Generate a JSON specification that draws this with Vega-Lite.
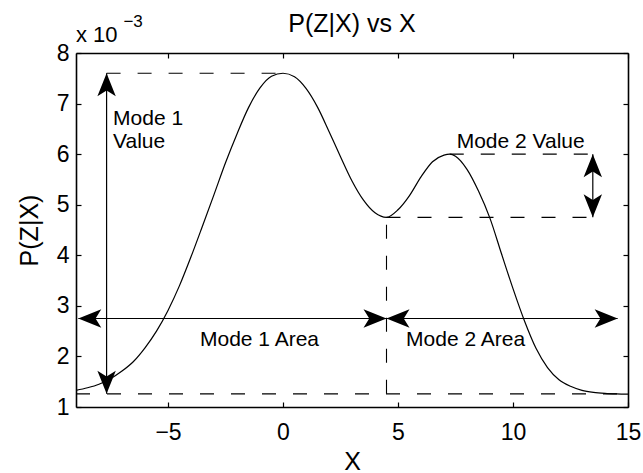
{
  "$schema": "https://vega.github.io/schema/vega-lite/v6.json",
  "width": 552,
  "height": 354,
  "autosize": {"type": "none"},
  "padding": {"left": 76, "top": 53, "right": 15, "bottom": 66},
  "background": "white",
  "config": {
    "font": "Liberation Sans",
    "view": {"stroke": null},
    "axis": {
      "grid": false,
      "domainColor": "black",
      "domainWidth": 1.6,
      "tickColor": "black",
      "tickWidth": 1.2,
      "tickSize": -5,
      "labelColor": "black",
      "labelFontSize": 23,
      "labelFlush": false,
      "labelOverlap": false,
      "titleColor": "black",
      "titleFontSize": 25,
      "titleFontWeight": "normal"
    }
  },
  "datasets": {
    "curve": [
      {"x": -9.0, "p": 0.00133},
      {"x": -8.5, "p": 0.00138},
      {"x": -8.0, "p": 0.00145},
      {"x": -7.5, "p": 0.00156},
      {"x": -7.0, "p": 0.00171},
      {"x": -6.5, "p": 0.00190},
      {"x": -6.0, "p": 0.00217},
      {"x": -5.5, "p": 0.00250},
      {"x": -5.0, "p": 0.00291},
      {"x": -4.5, "p": 0.00340},
      {"x": -4.0, "p": 0.00397},
      {"x": -3.5, "p": 0.00458},
      {"x": -3.0, "p": 0.00520},
      {"x": -2.5, "p": 0.00583},
      {"x": -2.0, "p": 0.00640},
      {"x": -1.5, "p": 0.00692},
      {"x": -1.0, "p": 0.00731},
      {"x": -0.5, "p": 0.00754},
      {"x": 0.0, "p": 0.00760},
      {"x": 0.5, "p": 0.00753},
      {"x": 1.0, "p": 0.00730},
      {"x": 1.5, "p": 0.00693},
      {"x": 2.0, "p": 0.00645},
      {"x": 2.5, "p": 0.00595},
      {"x": 3.0, "p": 0.00547},
      {"x": 3.5, "p": 0.00509},
      {"x": 4.0, "p": 0.00484},
      {"x": 4.5, "p": 0.00475},
      {"x": 5.0, "p": 0.00490},
      {"x": 5.5, "p": 0.00518},
      {"x": 6.0, "p": 0.00555},
      {"x": 6.5, "p": 0.00585},
      {"x": 7.0, "p": 0.00598},
      {"x": 7.25, "p": 0.00600},
      {"x": 7.5, "p": 0.00596},
      {"x": 8.0, "p": 0.00570},
      {"x": 8.5, "p": 0.00527},
      {"x": 9.0, "p": 0.00473},
      {"x": 9.5, "p": 0.00403},
      {"x": 10.0, "p": 0.00334},
      {"x": 10.5, "p": 0.00270},
      {"x": 11.0, "p": 0.00216},
      {"x": 11.5, "p": 0.00178},
      {"x": 12.0, "p": 0.00154},
      {"x": 12.5, "p": 0.00141},
      {"x": 13.0, "p": 0.00133},
      {"x": 13.5, "p": 0.00129},
      {"x": 14.0, "p": 0.00127},
      {"x": 14.5, "p": 0.00126},
      {"x": 15.0, "p": 0.001255}
    ],
    "guides": [
      {"x1": -7.67, "x2": 0, "p1": 0.0076, "p2": 0.0076},
      {"x1": -9, "x2": 15, "p1": 0.00126, "p2": 0.00126},
      {"x1": 4.5, "x2": 4.5, "p1": 0.00126, "p2": 0.00475},
      {"x1": 4.5, "x2": 13.47, "p1": 0.00475, "p2": 0.00475},
      {"x1": 7.25, "x2": 13.47, "p1": 0.006, "p2": 0.006}
    ],
    "shafts": [
      {"x1": -7.67, "x2": -7.67, "p1": 0.00126, "p2": 0.0076},
      {"x1": -8.9, "x2": 4.5, "p1": 0.00275, "p2": 0.00275},
      {"x1": 4.5, "x2": 14.55, "p1": 0.00275, "p2": 0.00275},
      {"x1": 13.47, "x2": 13.47, "p1": 0.00475, "p2": 0.006}
    ],
    "heads": [
      {"x": -7.67, "p": 0.0076, "dir": "up"},
      {"x": -7.67, "p": 0.00126, "dir": "down"},
      {"x": -8.9, "p": 0.00275, "dir": "left"},
      {"x": 4.5, "p": 0.00275, "dir": "right"},
      {"x": 4.5, "p": 0.00275, "dir": "left"},
      {"x": 14.55, "p": 0.00275, "dir": "right"},
      {"x": 13.47, "p": 0.006, "dir": "up"},
      {"x": 13.47, "p": 0.00475, "dir": "down"}
    ],
    "notes": [
      {"text": "Mode 1", "x": -7.39, "p": 0.006576},
      {"text": "Value", "x": -7.39, "p": 0.00612},
      {"text": "Mode 2 Value", "x": 7.55, "p": 0.006115},
      {"text": "Mode 1 Area", "x": -3.61, "p": 0.0022},
      {"text": "Mode 2 Area", "x": 5.35, "p": 0.0022}
    ],
    "heading": [
      {"text": "P(Z|X) vs X", "x": 3, "p": 0.008409}
    ],
    "multiplier": [
      {"text": "x 10", "x": -9, "p": 0.008224}
    ],
    "exponent": [
      {"text": "−3", "x": -6.94, "p": 0.00852}
    ]
  },
  "layer": [
    {
      "data": {"name": "curve"},
      "mark": {"type": "line", "color": "black", "strokeWidth": 1.2, "interpolate": "monotone", "clip": true},
      "encoding": {
        "x": {
          "field": "x", "type": "quantitative",
          "scale": {"domain": [-9, 15], "nice": false, "zero": false},
          "axis": {"orient": "bottom", "title": "X", "values": [-5, 0, 5, 10, 15], "labelPadding": 19, "titlePadding": 5}
        },
        "y": {
          "field": "p", "type": "quantitative",
          "scale": {"domain": [0.001, 0.008], "nice": false, "zero": false},
          "axis": {
            "orient": "left", "title": "P(Z|X)",
            "values": [0.001, 0.002, 0.003, 0.004, 0.005, 0.006, 0.007, 0.008],
            "labelExpr": "round(datum.value * 1000)",
            "labelPadding": 12, "titlePadding": 14
          }
        }
      }
    },
    {
      "data": {"name": "guides"},
      "mark": {"type": "rule", "color": "black", "strokeWidth": 1.1, "strokeDash": [14, 17]},
      "encoding": {
        "x": {"field": "x1", "type": "quantitative", "axis": {"orient": "top", "values": [-5, 0, 5, 10, 15], "labels": false, "title": null}},
        "x2": {"field": "x2"},
        "y": {"field": "p1", "type": "quantitative", "axis": {"orient": "right", "values": [0.001, 0.002, 0.003, 0.004, 0.005, 0.006, 0.007, 0.008], "labels": false, "title": null}},
        "y2": {"field": "p2"}
      }
    },
    {
      "data": {"name": "shafts"},
      "mark": {"type": "rule", "color": "black", "strokeWidth": 1.2},
      "encoding": {
        "x": {"field": "x1", "type": "quantitative", "axis": null},
        "x2": {"field": "x2"},
        "y": {"field": "p1", "type": "quantitative", "axis": null},
        "y2": {"field": "p2"}
      }
    },
    {
      "data": {"name": "heads"},
      "transform": [{"filter": "datum.dir === 'up'"}],
      "mark": {"type": "point", "shape": "M0,0 L0.8,2 L0,1.5 L-0.8,2 Z", "size": 529, "angle": 0, "filled": true, "opacity": 1, "color": "black", "strokeWidth": 0},
      "encoding": {
        "x": {"field": "x", "type": "quantitative", "axis": null},
        "y": {"field": "p", "type": "quantitative", "axis": null}
      }
    },
    {
      "data": {"name": "heads"},
      "transform": [{"filter": "datum.dir === 'right'"}],
      "mark": {"type": "point", "shape": "M0,0 L0.8,2 L0,1.5 L-0.8,2 Z", "size": 529, "angle": 90, "filled": true, "opacity": 1, "color": "black", "strokeWidth": 0},
      "encoding": {
        "x": {"field": "x", "type": "quantitative", "axis": null},
        "y": {"field": "p", "type": "quantitative", "axis": null}
      }
    },
    {
      "data": {"name": "heads"},
      "transform": [{"filter": "datum.dir === 'down'"}],
      "mark": {"type": "point", "shape": "M0,0 L0.8,2 L0,1.5 L-0.8,2 Z", "size": 529, "angle": 180, "filled": true, "opacity": 1, "color": "black", "strokeWidth": 0},
      "encoding": {
        "x": {"field": "x", "type": "quantitative", "axis": null},
        "y": {"field": "p", "type": "quantitative", "axis": null}
      }
    },
    {
      "data": {"name": "heads"},
      "transform": [{"filter": "datum.dir === 'left'"}],
      "mark": {"type": "point", "shape": "M0,0 L0.8,2 L0,1.5 L-0.8,2 Z", "size": 529, "angle": 270, "filled": true, "opacity": 1, "color": "black", "strokeWidth": 0},
      "encoding": {
        "x": {"field": "x", "type": "quantitative", "axis": null},
        "y": {"field": "p", "type": "quantitative", "axis": null}
      }
    },
    {
      "data": {"name": "notes"},
      "mark": {"type": "text", "align": "left", "baseline": "alphabetic", "fontSize": 21, "color": "black"},
      "encoding": {
        "x": {"field": "x", "type": "quantitative", "axis": null},
        "y": {"field": "p", "type": "quantitative", "axis": null},
        "text": {"field": "text"}
      }
    },
    {
      "data": {"name": "heading"},
      "mark": {"type": "text", "align": "center", "baseline": "alphabetic", "fontSize": 25, "color": "black"},
      "encoding": {
        "x": {"field": "x", "type": "quantitative", "axis": null},
        "y": {"field": "p", "type": "quantitative", "axis": null},
        "text": {"field": "text"}
      }
    },
    {
      "data": {"name": "multiplier"},
      "mark": {"type": "text", "align": "left", "baseline": "alphabetic", "fontSize": 22, "color": "black"},
      "encoding": {
        "x": {"field": "x", "type": "quantitative", "axis": null},
        "y": {"field": "p", "type": "quantitative", "axis": null},
        "text": {"field": "text"}
      }
    },
    {
      "data": {"name": "exponent"},
      "mark": {"type": "text", "align": "left", "baseline": "alphabetic", "fontSize": 17, "color": "black"},
      "encoding": {
        "x": {"field": "x", "type": "quantitative", "axis": null},
        "y": {"field": "p", "type": "quantitative", "axis": null},
        "text": {"field": "text"}
      }
    }
  ]
}
